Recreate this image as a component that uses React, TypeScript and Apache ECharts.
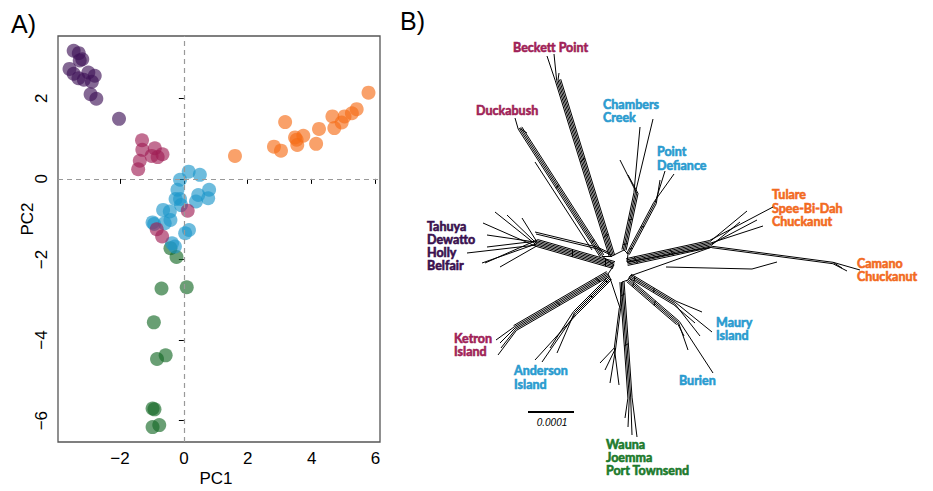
import React, { useEffect, useRef } from 'react';
import * as echarts from 'echarts';

// ---------- Panel A: PCA scores ----------
const purplePts: [number, number][] = [
  [-3.45, 3.18], [-3.29, 3.12], [-3.18, 2.97], [-3.26, 2.94], [-3.58, 2.73], [-3.45, 2.61],
  [-3.30, 2.50], [-3.13, 2.46], [-2.99, 2.64], [-2.79, 2.56], [-2.88, 2.41], [-2.92, 2.10],
  [-2.74, 1.99], [-2.03, 1.49],
];
const pinkPts: [number, number][] = [
  [-1.31, 0.96], [-1.30, 0.72], [-0.91, 0.76], [-1.01, 0.57], [-0.67, 0.61], [-0.82, 0.54],
  [-1.38, 0.45], [-1.43, 0.24], [0.12, -0.79], [-0.85, -1.25], [-0.68, -1.43],
];
const orangePts: [number, number][] = [
  [1.60, 0.57], [3.17, 1.41], [2.82, 0.80], [3.04, 0.70], [3.48, 1.03], [3.53, 0.97],
  [3.74, 1.07], [3.55, 0.84], [4.14, 0.87], [4.23, 1.24], [4.71, 1.26], [4.65, 1.55],
  [4.94, 1.40], [5.03, 1.55], [5.26, 1.63], [5.41, 1.73], [5.78, 2.14],
];
const bluePts: [number, number][] = [
  [0.15, 0.18], [0.50, 0.10], [-0.12, -0.02], [-0.20, -0.27], [0.79, -0.27], [0.45, -0.40],
  [0.76, -0.48], [0.38, -0.56], [-0.26, -0.50], [-0.12, -0.50], [-0.09, -0.65], [-0.65, -0.77],
  [-0.44, -0.81], [-0.42, -1.02], [-0.98, -1.08], [-0.93, -1.12], [-0.60, -1.10], [0.04, -1.35],
  [0.16, -1.27], [-0.37, -1.60], [-0.28, -1.68],
];
const greenPts: [number, number][] = [
  [-0.42, -1.72], [-0.23, -1.94], [-0.70, -2.72], [0.09, -2.69], [-0.94, -3.56], [-0.84, -4.47],
  [-0.57, -4.38], [-0.98, -5.70], [-0.92, -5.72], [-0.98, -6.16], [-0.77, -6.11],
];
const xTicks = [-2, 0, 2, 4, 6];
const yTicks = [-6, -4, -2, 0, 2];

const C_PURPLE = 'rgba(62,18,88,0.8)';
const C_PINK = 'rgba(160,30,85,0.8)';
const C_ORANGE = 'rgba(246,108,22,0.8)';
const C_BLUE = 'rgba(28,150,202,0.8)';
const C_GREEN = 'rgba(20,105,38,0.8)';

// ---------- Panel B: split network (units: px-like distance from centre, y downward) ----------
type Pt = [number, number];
interface Branch { base: Pt; hub: Pt; tips: Pt[]; strands: number }
const beckett: Branch = { base: [-8, -12], hub: [-62, -188], tips: [[-73, -212], [-66, -214], [-61, -195]], strands: 5 };
const duckabush: Branch = { base: [-18, -12], hub: [-100, -140], tips: [[-105, -150], [-93, -135]], strands: 4 };
const chambers: Branch = { base: [4, -18], hub: [16, -75], tips: [[20, -141], [33, -149], [0, -108], [8, -93]], strands: 4 };
const defiance: Branch = { base: [8, -14], hub: [35, -65], tips: [[54, -94], [45, -97], [40, -88]], strands: 3 };
const tulare: Branch = { base: [7, -6], hub: [90, -24], tips: [[153, -61], [127, -57], [143, -42], [137, -48], [120, -46]], strands: 6 };
const camano: Branch = { base: [92, -21], hub: [213, -5], tips: [[240, 2], [227, 3], [222, 0]], strands: 2 };
const maury: Branch = { base: [10, 8], hub: [55, 35], tips: [[82, 44], [92, 64], [80, 68], [75, 55]], strands: 4 };
const burien: Branch = { base: [8, 12], hub: [58, 55], tips: [[93, 105], [68, 82], [64, 68]], strands: 4 };
const wauna: Branch = { base: [2, 14], hub: [10, 130], tips: [[17, 169], [12, 167], [8, 159], [5, 150]], strands: 4 };
const waunaSide: Branch = { base: [0, 40], hub: [-5, 80], tips: [[-15, 102], [-20, 95], [-10, 115], [-1, 117]], strands: 2 };
const anderson: Branch = { base: [-10, 10], hub: [-45, 45], tips: [[-85, 92], [-78, 94], [-63, 85], [-70, 80]], strands: 4 };
const ketron: Branch = { base: [-12, 6], hub: [-105, 60], tips: [[-122, 87], [-119, 80], [-120, 75], [-124, 72]], strands: 5 };
const tahuya: Branch = {
  base: [-6, -3], hub: [-83, -25],
  tips: [[-137, -45], [-125, -56], [-113, -53], [-98, -50], [-133, -21], [-135, -5], [-120, -1], [-153, -15], [-138, -5], [-133, -33]],
  strands: 6,
};
const networkBranches = [beckett, duckabush, chambers, defiance, tulare, camano, maury, burien, wauna, waunaSide, anderson, ketron, tahuya];
const extraEdges: Pt[][] = [
  [[-85, -36], [-23, -21]], [[-84, -34], [-22, -19]], [[-23, -21], [-10, -15]], [[-22, -19], [-9, -13]],
  [[46, -1], [132, 1]], [[132, 1], [157, -6]],
  [[-85, -106], [-28, -18]],
];
const scaleBar: Pt[] = [[-92, 144], [-46, 144]];

const netLabels: { lines: string[]; x: number; y: number; color: string }[] = [
  { lines: ['Beckett Point'], x: 513, y: 47.5, color: '#a01f58' },
  { lines: ['Duckabush'], x: 476, y: 110, color: '#a01f58' },
  { lines: ['Chambers', 'Creek'], x: 603, y: 104.3, color: '#2a9bcf' },
  { lines: ['Point', 'Defiance'], x: 657, y: 151.7, color: '#2a9bcf' },
  { lines: ['Tulare', 'Spee-Bi-Dah', 'Chuckanut'], x: 772, y: 194.7, color: '#f26a1f' },
  { lines: ['Tahuya', 'Dewatto', 'Holly', 'Belfair'], x: 427, y: 226, color: '#3a104f' },
  { lines: ['Camano', 'Chuckanut'], x: 857, y: 263.3, color: '#f26a1f' },
  { lines: ['Maury', 'Island'], x: 716, y: 322.3, color: '#2a9bcf' },
  { lines: ['Ketron', 'Island'], x: 454, y: 338.3, color: '#a01f58' },
  { lines: ['Anderson', 'Island'], x: 514, y: 370.7, color: '#2a9bcf' },
  { lines: ['Burien'], x: 679, y: 380, color: '#2a9bcf' },
  { lines: ['Wauna', 'Joemma', 'Port Townsend'], x: 606, y: 444.3, color: '#1c7a2c' },
];

function buildEdges(): Pt[][] {
  const segs: Pt[][] = [];
  for (const b of networkBranches) {
    const dx = b.hub[0] - b.base[0];
    const dy = b.hub[1] - b.base[1];
    const len = Math.hypot(dx, dy);
    const nx = -dy / len, ny = dx / len;
    const sp = 1.4;
    const offs: number[] = [];
    for (let i = 0; i < b.strands; i++) offs.push((i - (b.strands - 1) / 2) * sp);
    for (const o of offs) {
      segs.push([[b.base[0] + nx * o, b.base[1] + ny * o], [b.hub[0] + nx * o, b.hub[1] + ny * o]]);
    }
    if (b.strands > 2) {
      for (const t of [0.12, 0.55]) {
        const px = b.base[0] + dx * t, py = b.base[1] + dy * t;
        const o0 = offs[0], o1 = offs[offs.length - 1];
        segs.push([[px + nx * o0 - (dx / len) * 2, py + ny * o0 - (dy / len) * 2], [px + nx * o1, py + ny * o1]]);
      }
    }
    b.tips.forEach((tip, k) => {
      const o = offs[k % offs.length];
      segs.push([[b.hub[0] + nx * o, b.hub[1] + ny * o], tip]);
    });
  }
  const bases = networkBranches.map((b) => b.base).slice().sort((a, c) => Math.atan2(a[1], a[0]) - Math.atan2(c[1], c[0]));
  for (let i = 0; i < bases.length; i++) segs.push([bases[i], bases[(i + 1) % bases.length]]);
  for (const e of extraEdges) segs.push(e);
  return segs;
}

const AXIS_FONT = '"Liberation Sans", Arial, Helvetica, sans-serif';
const LABEL_FONT = 'Lato, "Open Sans", sans-serif';

function scatter(name: string, pts: [number, number][], color: string, extra: any = {}) {
  return {
    name, type: 'scatter', xAxisIndex: 0, yAxisIndex: 0, data: pts, symbolSize: 14,
    itemStyle: { color, borderWidth: 0 }, silent: true, ...extra,
  };
}

export default function App() {
  const ref = useRef<HTMLDivElement>(null);
  useEffect(() => {
    if (!ref.current) return;
    const chart = echarts.init(ref.current, undefined, { renderer: 'svg' });
    const graphics: any[] = [
      { type: 'text', x: 11, y: 24, style: { text: 'A)', fontSize: 25, fontFamily: AXIS_FONT, fill: '#000', textVerticalAlign: 'middle' } },
      { type: 'text', x: 400, y: 21, style: { text: 'B)', fontSize: 25, fontFamily: AXIS_FONT, fill: '#000', textVerticalAlign: 'middle' } },
      { type: 'text', x: 216, y: 478, style: { text: 'PC1', fontSize: 17, fontFamily: AXIS_FONT, fill: '#000', textAlign: 'center', textVerticalAlign: 'middle' } },
      { type: 'text', x: 27, y: 219, rotation: Math.PI / 2, style: { text: 'PC2', fontSize: 17, fontFamily: AXIS_FONT, fill: '#000', textAlign: 'center', textVerticalAlign: 'middle' } },
      { type: 'text', x: 552, y: 422, style: { text: '0.0001', fontSize: 10, fontStyle: 'italic', fontFamily: AXIS_FONT, fill: '#000', textAlign: 'center', textVerticalAlign: 'middle' } },
    ];
    for (const lab of netLabels) {
      lab.lines.forEach((ln, i) => {
        graphics.push({
          type: 'text', x: lab.x, y: lab.y + i * 13.3,
          style: {
            text: ln, fontSize: 12.5, fontWeight: 'bold', fontFamily: LABEL_FONT, fill: lab.color,
            stroke: lab.color, lineWidth: 0.6, textVerticalAlign: 'middle',
          },
        });
      });
    }
    const edges = buildEdges();
    chart.setOption({
      animation: false,
      backgroundColor: '#fff',
      grid: [
        { left: 58, top: 36, width: 322, height: 406, show: true, borderColor: '#555', borderWidth: 1.3, backgroundColor: 'transparent' },
        { left: 420, top: 20, width: 500, height: 460, show: false },
      ],
      xAxis: [
        {
          gridIndex: 0, type: 'value', min: -3.94, max: 6.14,
          axisLine: { show: false },
          axisTick: { show: true, length: 5, lineStyle: { color: '#000', width: 1 }, customValues: xTicks },
          axisLabel: { show: true, customValues: xTicks, margin: 8, fontSize: 17, fontFamily: AXIS_FONT, color: '#000', formatter: (v: number) => String(v).replace('-', '\u2212') },
          splitLine: { show: false },
        },
        { gridIndex: 1, type: 'value', min: -200, max: 300, show: false },
      ],
      yAxis: [
        {
          gridIndex: 0, type: 'value', min: -6.53, max: 3.546,
          axisLine: { show: false },
          axisTick: { show: true, length: 5, lineStyle: { color: '#000', width: 1 }, customValues: yTicks },
          axisLabel: { show: true, customValues: yTicks, margin: 8, rotate: 90, fontSize: 17, fontFamily: AXIS_FONT, color: '#000', formatter: (v: number) => String(v).replace('-', '\u2212') },
          splitLine: { show: false },
        },
        { gridIndex: 1, type: 'value', min: -248, max: 212, inverse: true, show: false },
      ],
      series: [
        scatter('green', greenPts, C_GREEN, {
          markLine: {
            silent: true, symbol: 'none', label: { show: false },
            lineStyle: { type: [5, 4], color: '#999', width: 1.2 },
            data: [{ xAxis: 0 }, { yAxis: 0 }],
          },
        }),
        scatter('orange', orangePts, C_ORANGE),
        scatter('blue', bluePts, C_BLUE),
        scatter('pink', pinkPts, C_PINK),
        scatter('purple', purplePts, C_PURPLE),
        {
          type: 'lines', coordinateSystem: 'cartesian2d', xAxisIndex: 1, yAxisIndex: 1, polyline: false, silent: true,
          lineStyle: { color: '#000', width: 1, opacity: 1 },
          data: edges.map((c) => ({ coords: c })),
        },
        {
          type: 'lines', coordinateSystem: 'cartesian2d', xAxisIndex: 1, yAxisIndex: 1, polyline: false, silent: true,
          lineStyle: { color: '#000', width: 2, opacity: 1 },
          data: [{ coords: scaleBar }],
        },
      ],
      graphic: graphics,
    });
    return () => chart.dispose();
  }, []);
  return <div ref={ref} style={{ position: 'absolute', left: 0, top: 0, width: 933, height: 491 }} />;
}
